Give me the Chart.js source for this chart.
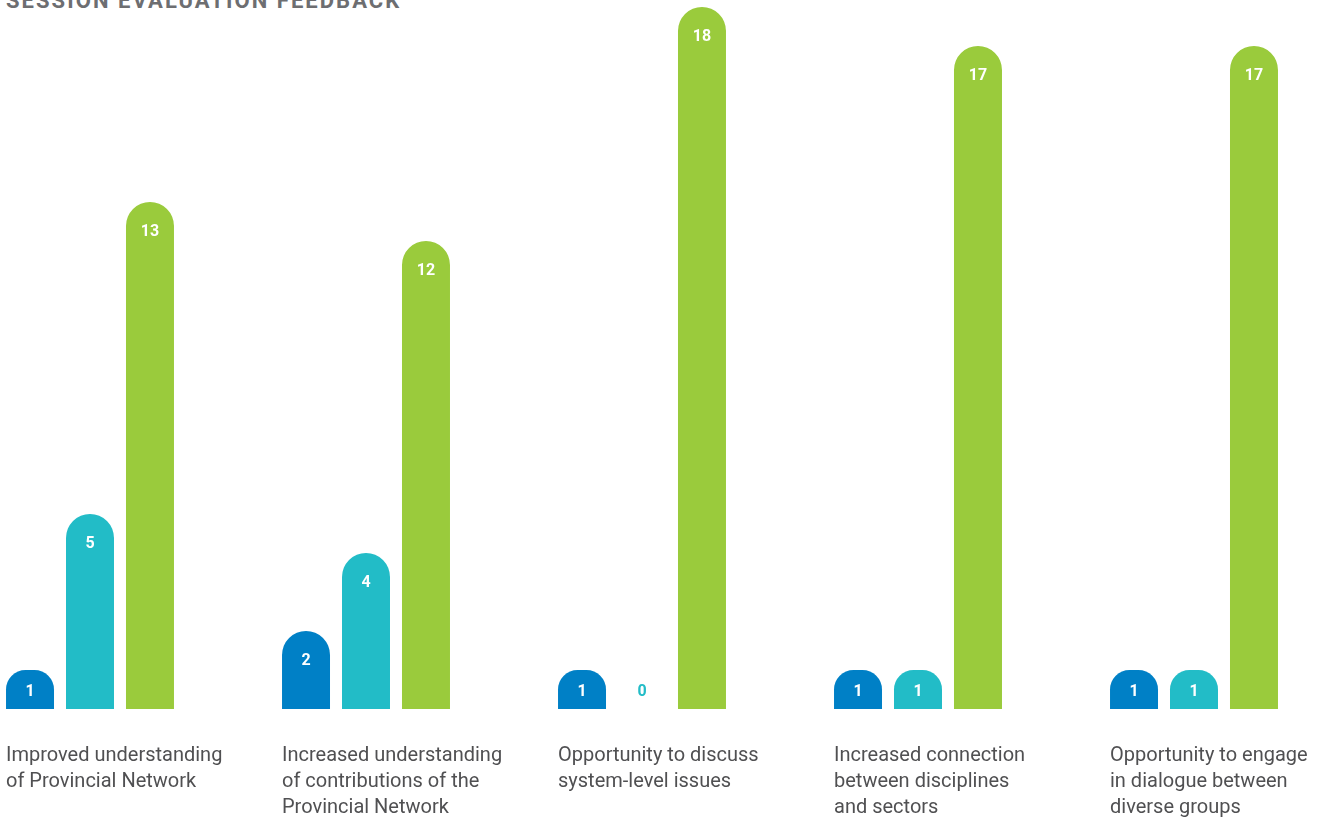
<!DOCTYPE html>
<html>
<head>
<meta charset="utf-8">
<script src="https://cdn.jsdelivr.net/npm/chart.js@4.4.1/dist/chart.umd.min.js"></script>
<style>
  html, body { margin: 0; padding: 0; background: #fff; overflow: hidden; }
  body { width: 1325px; height: 818px; position: relative; }
  #title {
    position: absolute; left: 6px; top: -10px;
    font-family: Roboto, sans-serif; font-weight: 700; font-size: 22px;
    line-height: 22px; letter-spacing: 2.05px; color: #6d6e71;
    white-space: nowrap;
  }
  #plot { position: absolute; left: -48px; top: 0; }
</style>
</head>
<body>
<div id="title">SESSION EVALUATION FEEDBACK</div>
<canvas id="plot" width="1380" height="818"></canvas>
<script>
'use strict';

// categories (x axis labels, one array per line)
const CATEGORIES = [
    ['Improved understanding', 'of Provincial Network'],
    ['Increased understanding', 'of contributions of the', 'Provincial Network'],
    ['Opportunity to discuss', 'system-level issues'],
    ['Increased connection', 'between disciplines', 'and sectors'],
    ['Opportunity to engage', 'in dialogue between', 'diverse groups']
];

// series values
const SERIES_A = [1, 2, 1, 1, 1];
const SERIES_B = [5, 4, 0, 1, 1];
const SERIES_C = [13, 12, 18, 17, 17];

const COLORS = ['#0080c6', '#22bcc7', '#9acb3c'];

// value labels at the top of each bar
const barValues = {
    id: 'barValues',
    afterDatasetsDraw(chart) {
        const ctx = chart.ctx;
        ctx.save();
        ctx.font = '700 16px Roboto, sans-serif';
        ctx.textAlign = 'center';
        ctx.textBaseline = 'middle';
        chart.data.datasets.forEach((ds, i) => {
            const meta = chart.getDatasetMeta(i);
            meta.data.forEach((bar, j) => {
                const v = ds.data[j];
                const y = Math.min(bar.y + 30, bar.base - 17);
                ctx.fillStyle = v > 0 ? '#ffffff' : ds.backgroundColor;
                ctx.fillText(String(v), bar.x, y);
            });
        });
        ctx.restore();
    }
};

const dataset = [SERIES_A, SERIES_B, SERIES_C].map((values, i) => ({
    label: 'series ' + (i + 1),
    data: values,
    backgroundColor: COLORS[i],
    borderRadius: { topLeft: 24, topRight: 24, bottomLeft: 0, bottomRight: 0 },
    borderSkipped: 'bottom',
    categoryPercentage: 0.652,
    barPercentage: 0.8,
    inflateAmount: 0
}));

const config = {
    type: 'bar',
    data: { labels: CATEGORIES, datasets: dataset },
    options: {
        responsive: false,
        animation: false,
        layout: { padding: { top: 7, bottom: 0, left: 0, right: 0 } },
        plugins: {
            legend: { display: false },
            tooltip: { enabled: false },
            title: { display: false }
        },
        scales: {
            x: {
                grid: { display: false, drawTicks: false },
                border: { display: false },
                afterFit(scale) {
                    // labels hang past the last category; keep the full width for bars
                    scale.paddingLeft = 0;
                    scale.paddingRight = 0;
                    scale.height = 109;
                },
                ticks: {
                    align: 'start',
                    labelOffset: -84,
                    padding: 34,
                    maxRotation: 0,
                    autoSkip: false,
                    color: '#505052',
                    font: { family: 'Roboto, sans-serif', size: 20, lineHeight: 1.3 }
                }
            },
            y: {
                display: false,
                min: 0,
                max: 18
            }
        }
    },
    plugins: [barValues]
};

new Chart(document.getElementById('plot'), config);
</script>
</body>
</html>
